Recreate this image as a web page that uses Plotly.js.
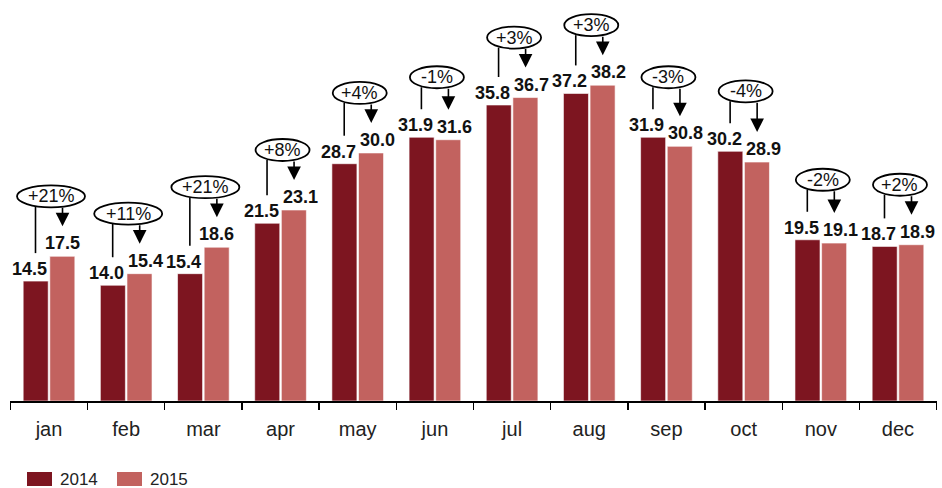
<!DOCTYPE html>
<html>
<head>
<meta charset="utf-8">
<script src="https://cdn.plot.ly/plotly-3.0.1.min.js"></script>
<style>html,body{margin:0;padding:0;background:#fff;}#chart{width:942px;height:488px;}</style>
</head>
<body>
<div id="chart"></div>
<script>
const months = ['jan','feb','mar','apr','may','jun','jul','aug','sep','oct','nov','dec'];
const values2014 = [14.5, 14.0, 15.4, 21.5, 28.7, 31.9, 35.8, 37.2, 31.9, 30.2, 19.5, 18.7];
const values2015 = [17.5, 15.4, 18.6, 23.1, 30.0, 31.6, 36.7, 38.2, 30.8, 28.9, 19.1, 18.9];
const changeLabels = ['+21%','+11%','+21%','+8%','+4%','-1%','+3%','+3%','-3%','-4%','-2%','+2%'];
const seriesNames = ['2014','2015'];

const C14 = '#7d1520', C15 = '#c2625f';
const COLORS = [C14, C15];
const FONT = 'Liberation Sans, Arial, sans-serif';
const W = 942, H = 488, ML = 10, MR = 5, MT = 0, MB = 87;
const PW = W - ML - MR, PH = H - MT - MB;
const YMAX = 48.5;
const ppu = PH / YMAX;   // pixels per data unit
const OFF = 0.175;       // bar centre offset within a group

const traces = [
  {type:'bar', name:seriesNames[0], x:months, y:values2014, showlegend:false,
   marker:{color:C14, line:{color:'#ffffff', width:0.6}}, hoverinfo:'x+y'},
  {type:'bar', name:seriesNames[1], x:months, y:values2015, showlegend:false,
   marker:{color:C15, line:{color:'#ffffff', width:0.6}}, hoverinfo:'x+y'}
];

const shapes = [], annotations = [];
months.forEach((m, i) => {
  const a = values2014[i], b = values2015[i], mx = Math.max(a, b);
  const txt = changeLabels[i];
  const w = 14 * txt.length + 12;
  const eC = 60;      // ellipse centre above tallest bar, px
  const eH = 11;      // half height
  shapes.push({type:'circle', xref:'x', yref:'y', xsizemode:'pixel', ysizemode:'pixel',
    xanchor:i, yanchor:mx, x0:-w/2 + 2, x1:w/2 + 2, y0:eC - eH, y1:eC + eH,
    line:{color:'#000', width:1.8}, fillcolor:'rgba(255,255,255,0)'});
  shapes.push({type:'line', xref:'x', yref:'y',
    x0:i - OFF, x1:i - OFF, y0:a + 28/ppu, y1:mx + (eC - eH + 1)/ppu,
    line:{color:'#000', width:1.6}});
  annotations.push({xref:'x', yref:'y', axref:'x', ayref:'y',
    x:i + OFF, y:b + 30/ppu, ax:i + OFF, ay:mx + (eC - eH + 1)/ppu,
    text:'', showarrow:true, arrowhead:2, arrowsize:1.7, arrowwidth:1.6, arrowcolor:'#000', standoff:0, startstandoff:0});
  annotations.push({xref:'x', yref:'y', x:i, y:mx, yshift:eC, xshift:2, text:txt, showarrow:false,
    font:{family:FONT, size:18, color:'#111'}, yanchor:'middle'});
  const close = Math.abs(a - b) < 2.5;
  annotations.push({xref:'x', yref:'y', x:i - OFF, y:a, yshift:12, xshift:-6, text:a.toFixed(1), showarrow:false,
    font:{family:FONT, size:18, color:'#111', weight:'bold'}, yanchor:'middle'});
  annotations.push({xref:'x', yref:'y', x:i + OFF, y:b, yshift:13, xshift:close ? 6 : 0, text:b.toFixed(1), showarrow:false,
    font:{family:FONT, size:18, color:'#111', weight:'bold'}, yanchor:'middle'});
});

// legend (swatches + labels) in paper coordinates
seriesNames.forEach((nm, k) => {
  const sx = 17 + k * 90;               // px from plot left
  shapes.push({type:'rect', xref:'paper', yref:'paper',
    x0:sx / PW, x1:(sx + 25) / PW, y0:-(486 - PH) / PH, y1:-(472 - PH) / PH,
    line:{width:0}, fillcolor:COLORS[k]});
  annotations.push({xref:'paper', yref:'paper', x:(sx + 31) / PW, y:-(479 - PH) / PH,
    xanchor:'left', yanchor:'middle', text:nm, showarrow:false,
    font:{family:FONT, size:17, color:'#222'}});
});

const layout = {
  width:W, height:H,
  margin:{l:ML, r:MR, t:MT, b:MB, autoexpand:false},
  paper_bgcolor:'#fff', plot_bgcolor:'#fff',
  barmode:'group', bargap:0.31, bargroupgap:0.06,
  showlegend:false,
  xaxis:{type:'category', tickson:'boundaries', ticks:'outside', ticklen:7, tickwidth:1.3, tickcolor:'#000',
         showline:true, linecolor:'#000', linewidth:1.5, showgrid:false, zeroline:false,
         tickfont:{family:FONT, size:20, color:'#222'}, ticklabelstandoff:9},
  yaxis:{visible:false, range:[0, YMAX], showgrid:false, zeroline:false},
  shapes:shapes, annotations:annotations,
  font:{family:FONT}
};

Plotly.newPlot('chart', traces, layout, {displayModeBar:false, staticPlot:true});
</script>
</body>
</html>
